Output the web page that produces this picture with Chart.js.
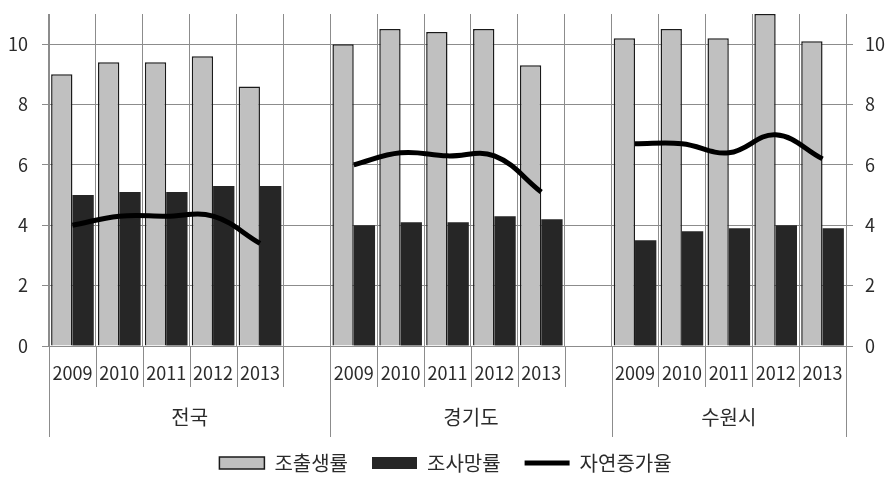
<!DOCTYPE html>
<html lang="ko">
<head>
<meta charset="utf-8">
<title>조출생률 · 조사망률 · 자연증가율</title>
<script src="https://cdn.jsdelivr.net/npm/chart.js@4/dist/chart.umd.min.js"></script>
<style>
  html, body { margin: 0; padding: 0; background: #ffffff; }
  #wrap { width: 891px; height: 483px; position: relative; }
</style>
</head>
<body>
<div id="wrap"><canvas id="chart"></canvas></div>
<script>
// Years per region, with a blank slot after each of the first two regions
const categories = [
  '2009', '2010', '2011', '2012', '2013', '',
  '2009', '2010', '2011', '2012', '2013', '',
  '2009', '2010', '2011', '2012', '2013'
];
const regions = ['전국', '경기도', '수원시'];
const regionStarts = [0, 6, 12];

// Rates per 1,000 population
const birthRate = [9.0, 9.4, 9.4, 9.6, 8.6, null, 10.0, 10.5, 10.4, 10.5, 9.3, null, 10.2, 10.5, 10.2, 11.0, 10.1];
const deathRate = [5.0, 5.1, 5.1, 5.3, 5.3, null, 4.0, 4.1, 4.1, 4.3, 4.2, null, 3.5, 3.8, 3.9, 4.0, 3.9];
const naturalIncrease = [4.0, 4.3, 4.3, 4.3, 3.4, null, 6.0, 6.4, 6.3, 6.3, 5.1, null, 6.7, 6.7, 6.4, 7.0, 6.2];

const yTicks = [0, 2, 4, 6, 8, 10];

const gridColor = '#8c8c8c';
const textColor = '#2b2b2b';
const fontFamily = '"Noto Sans CJK KR", "Noto Sans", sans-serif';

// Extends the category boundaries below the axis and writes the region names
const regionTiers = {
  id: 'regionTiers',
  afterDraw(chart) {
    const x = chart.scales.x;
    const area = chart.chartArea;
    const ctx = chart.ctx;
    const half = (x.getPixelForValue(1) - x.getPixelForValue(0)) / 2;
    const n = categories.length;
    const boundary = (i) => (i < n ? x.getPixelForValue(i) - half : x.getPixelForValue(n - 1) + half);
    const edges = regionStarts.concat([n]);

    ctx.save();
    ctx.strokeStyle = gridColor;
    ctx.lineWidth = 1;
    for (let i = 0; i <= n; i++) {
      const px = Math.round(boundary(i)) + 0.5;
      const depth = edges.includes(i) ? 91 : 41;
      ctx.beginPath();
      ctx.moveTo(px, area.bottom);
      ctx.lineTo(px, area.bottom + depth);
      ctx.stroke();
    }

    ctx.fillStyle = textColor;
    ctx.font = '20px ' + fontFamily;
    ctx.textAlign = 'center';
    ctx.textBaseline = 'middle';
    regions.forEach((name, r) => {
      const cx = (boundary(edges[r]) + boundary(edges[r + 1])) / 2;
      ctx.fillText(name, cx, area.bottom + 71);
    });
    ctx.restore();
  }
};

const pickTicks = (axis) => { axis.ticks = yTicks.map(v => ({ value: v })); };
const fitValueAxis = (width) => (scale) => {
  scale.width = width;
  scale.paddingTop = 0;
  scale.paddingBottom = 0;
};

new Chart(document.getElementById('chart'), {
  data: {
    labels: categories,
    datasets: [
      {
        type: 'bar',
        label: '조출생률',
        data: birthRate,
        backgroundColor: '#c0c0c0',
        borderColor: '#1a1a1a',
        borderWidth: 1.5,
        categoryPercentage: 0.91,
        barPercentage: 1.0,
        order: 1
      },
      {
        type: 'bar',
        label: '조사망률',
        data: deathRate,
        backgroundColor: '#262626',
        borderColor: '#262626',
        borderWidth: 0,
        categoryPercentage: 0.91,
        barPercentage: 1.0,
        order: 1
      },
      {
        type: 'line',
        label: '자연증가율',
        data: naturalIncrease,
        borderColor: '#000000',
        backgroundColor: '#000000',
        borderWidth: 5,
        pointRadius: 0,
        tension: 0.4,
        spanGaps: false,
        order: 0
      }
    ]
  },
  options: {
    responsive: true,
    maintainAspectRatio: false,
    animation: false,
    layout: { padding: { top: 14, left: 0, right: 0, bottom: 0 } },
    scales: {
      x: {
        offset: true,
        grid: { offset: true, color: gridColor, drawTicks: false },
        border: { color: gridColor },
        ticks: {
          padding: 16,
          autoSkip: false,
          maxRotation: 0,
          color: textColor,
          font: { family: fontFamily, size: 18 }
        },
        afterFit(scale) { scale.height = 83; }
      },
      y: {
        position: 'left',
        min: 0,
        max: 11,
        afterBuildTicks: pickTicks,
        afterFit: fitValueAxis(49),
        grid: { color: gridColor, tickLength: 7 },
        border: { color: gridColor },
        ticks: { padding: 14, color: textColor, font: { family: fontFamily, size: 18 } }
      },
      y2: {
        position: 'right',
        min: 0,
        max: 11,
        afterBuildTicks: pickTicks,
        afterFit: fitValueAxis(45),
        grid: { drawOnChartArea: false, color: gridColor, tickLength: 7 },
        border: { color: gridColor },
        ticks: { padding: 12, color: textColor, font: { family: fontFamily, size: 18 } }
      }
    },
    plugins: {
      tooltip: { enabled: false },
      legend: {
        position: 'bottom',
        labels: {
          usePointStyle: true,
          pointStyleWidth: 45,
          boxHeight: 12,
          padding: 24,
          color: textColor,
          font: { family: fontFamily, size: 20 },
          generateLabels(chart) {
            return chart.data.datasets.map((ds, i) => ({
              text: ds.label,
              datasetIndex: i,
              fillStyle: ds.type === 'line' ? ds.borderColor : ds.backgroundColor,
              strokeStyle: ds.borderColor,
              lineWidth: ds.type === 'line' ? 5 : (ds.borderWidth || 0),
              pointStyle: ds.type === 'line' ? 'line' : 'rect',
              fontColor: textColor,
              hidden: false
            }));
          }
        }
      }
    }
  },
  plugins: [regionTiers]
});
</script>
</body>
</html>
